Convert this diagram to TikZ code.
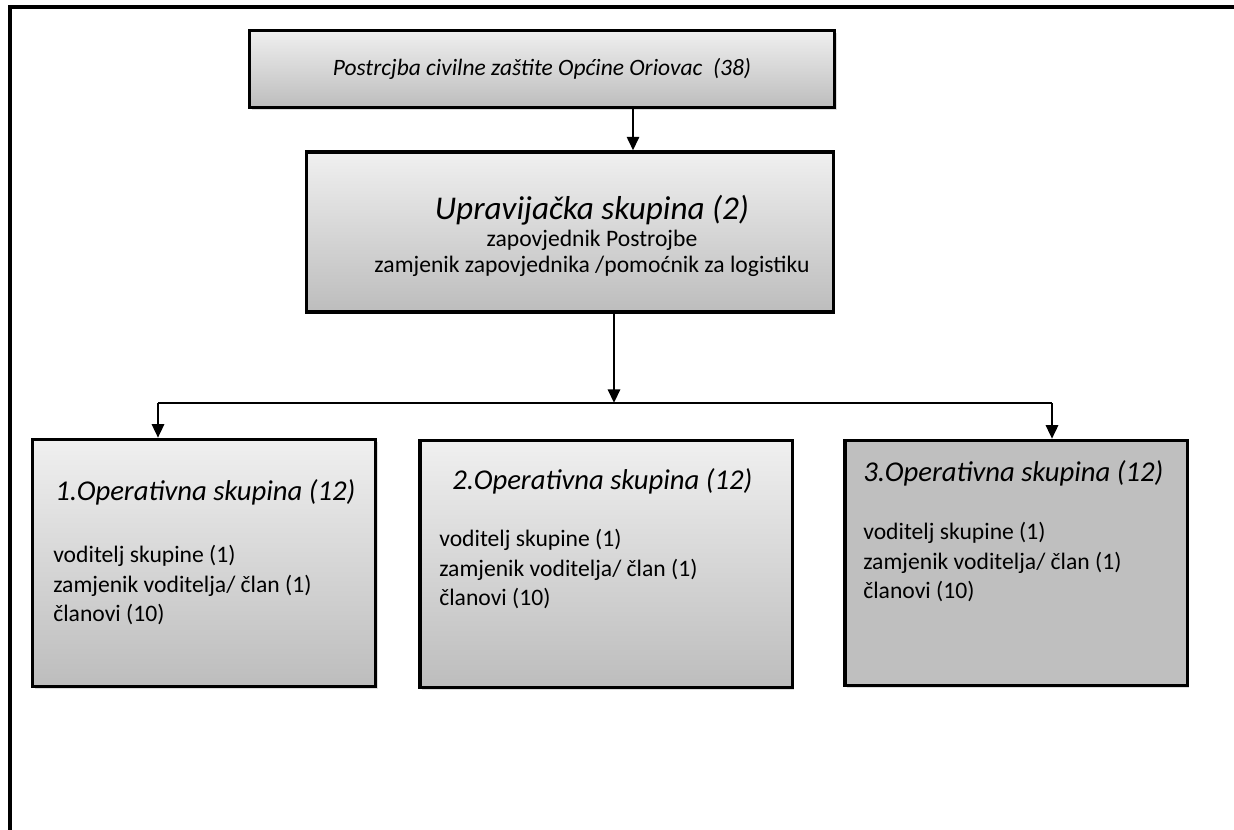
\documentclass[tikz,border=0pt]{standalone}
\usepackage{fontspec}
\setmainfont{Carlito}
\usepackage{xcolor}
\usetikzlibrary{arrows.meta,positioning,shadows}
\tikzset{
  >={Triangle[length=3.4mm, width=3mm]},
  box/.style={draw, line width=2.2pt, top color=gray!12, bottom color=gray!52,
    drop shadow={shadow xshift=1.6pt, shadow yshift=-1.6pt, fill=gray!45, opacity=0.6},
    inner sep=0pt},
  flatbox/.style={box, shade=none, fill=gray!50},
  ttl/.style={font=\itshape\fontsize{20.4}{24}\selectfont, inner sep=0pt, anchor=west},
  lst/.style={font=\fontsize{16.8}{20.8}\selectfont, align=left, inner sep=0pt, anchor=west},
  flow/.style={->, line width=2pt},
}
\begin{document}
\begin{tikzpicture}[x=0.025cm, y=-0.025cm]
  \useasboundingbox (0,0) rectangle (1234,829);
  % outer frame (left and top edges only)
  \draw[line width=2.8pt] (10,840) -- (10,7) -- (1245,7);
  % boxes
  \node[box, minimum width=14.63cm, minimum height=1.93cm,
        font=\itshape\fontsize{16.7}{20}\selectfont] (top) at (542,69)
        {Postrcjba civilne zaštite Općine Oriovac\ \ (38)};
  \node[box, minimum width=13.15cm, minimum height=4.0cm] (mid) at (570,232) {};
  \node[align=center, inner sep=0pt, font=\fontsize{16.8}{18.6}\selectfont] (midtxt) at (592,236)
        {{\itshape\fontsize{23.6}{26}\selectfont Upravijačka skupina (2)}\\[1pt]
         zapovjednik Postrojbe\\zamjenik zapovjednika /pomoćnik za logistiku};
  \node[box, minimum width=8.58cm, minimum height=6.18cm] (op1) at (204,563) {};
  \node[box, minimum width=9.3cm, minimum height=6.18cm] (op2) at (606,564) {};
  \node[flatbox, minimum width=8.55cm, minimum height=6.13cm] (op3) at (1016,563) {};
  % box texts
  \node[ttl] (op1t) at (55,492) {1.Operativna skupina (12)};
  \node[lst] (op1l) at (53,585) {voditelj skupine (1)\\zamjenik voditelja/ član (1)\\članovi (10)};
  \node[ttl] (op2t) at (452,481) {2.Operativna skupina (12)};
  \node[lst] (op2l) at (439,569) {voditelj skupine (1)\\zamjenik voditelja/ član (1)\\članovi (10)};
  \node[ttl] (op3t) at (863,473) {3.Operativna skupina (12)};
  \node[lst] (op3l) at (863,562) {voditelj skupine (1)\\zamjenik voditelja/ član (1)\\članovi (10)};
  % connectors
  \coordinate (tapA) at (633,0);
  \coordinate (bus) at (614,403);
  \coordinate (busL) at (158,403);
  \coordinate (busR) at (1052,403);
  \draw[flow] (top.south -| tapA) -- (mid.north -| tapA);
  \draw[flow] (mid.south -| bus) -- (bus);
  \draw[line width=2pt] (busL) -- (busR);
  \draw[flow] (busL) -- (op1.north -| busL);
  \draw[flow] (busR) -- (op3.north -| busR);
\end{tikzpicture}
\end{document}
